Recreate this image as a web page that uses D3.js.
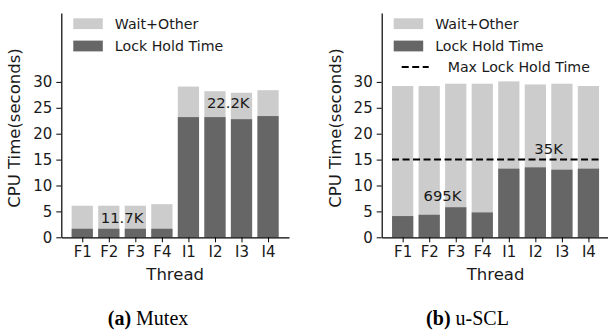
<!DOCTYPE html>
<html><head><meta charset="utf-8">
<script src="https://cdn.jsdelivr.net/npm/d3@7"></script>
<style>
html,body{margin:0;padding:0;background:#fff;}
svg{display:block;}
text{font-family:"DejaVu Sans",sans-serif;}
</style></head>
<body><svg id="c" width="608" height="333"></svg>
<script>
const threads = ["F1","F2","F3","F4","I1","I2","I3","I4"];
const mutexLock = [1.65,1.65,1.65,1.65,23.2,23.2,22.8,23.4];
const mutexTotal = [6.1,6.1,6.1,6.4,29.1,28.2,27.9,28.4];
const usclLock = [4.1,4.35,5.8,4.8,13.25,13.5,13.05,13.25];
const usclTotal = [29.2,29.2,29.65,29.65,30.1,29.5,29.65,29.2];
const maxLockHold = 15;
const yTicks = [0,5,10,15,20,25,30];
const legendLabels = ["Wait+Other","Lock Hold Time","Max Lock Hold Time"];
const mutexNotes = [{x:1.5,y:2.8,t:"11.7K"},{x:5.5,y:24.9,t:"22.2K"}];
const usclNotes = [{x:1.5,y:7.05,t:"695K"},{x:5.5,y:16.1,t:"35K"}];
const captions = [{b:"(a)",r:" Mutex"},{b:"(b)",r:" u-SCL"}];

const LIGHT="#cccccc", DARK="#666666", TXT="#1a1a1a";
const svg = d3.select("#c");

function panel(x0, lock, total, notes, showMax, cap, capX){
  const g = svg.append("g");
  const x = d3.scaleLinear().domain([-0.79,7.79]).range([x0, x0+227.7]);
  const y = d3.scaleLinear().domain([0,43.3]).range([237.3,13]);
  const bw = x(0.8)-x(0);
  g.selectAll("rect.tot").data(total).join("rect")
    .attr("x",(d,i)=>x(i-0.4)).attr("width",bw)
    .attr("y",d=>y(d)).attr("height",d=>y(0)-y(d)).attr("fill",LIGHT);
  g.selectAll("rect.lk").data(lock).join("rect")
    .attr("x",(d,i)=>x(i-0.4)).attr("width",bw)
    .attr("y",d=>y(d)).attr("height",d=>y(0)-y(d)).attr("fill",DARK);
  if(showMax){
    g.append("line").attr("x1",x(-0.4)).attr("x2",x(7.4))
      .attr("y1",y(maxLockHold)).attr("y2",y(maxLockHold))
      .attr("stroke","#000").attr("stroke-width",2).attr("stroke-dasharray","7,3.5");
  }
  const ya = d3.axisLeft(y).tickValues(yTicks).tickSize(5).tickPadding(4).tickSizeOuter(0);
  const yg = g.append("g").attr("transform",`translate(${x0},0)`).call(ya);
  const xa = d3.axisBottom(x).tickValues(d3.range(threads.length)).tickFormat(i=>threads[i])
    .tickSize(5).tickPadding(4).tickSizeOuter(0);
  const xg = g.append("g").attr("transform",`translate(0,${y(0)})`).call(xa);
  [yg,xg].forEach(a=>{
    a.selectAll("text").attr("font-size",15).attr("fill",TXT).attr("font-family","DejaVu Sans");
    a.select(".domain").attr("stroke","#000").attr("stroke-width",1.2);
    a.selectAll(".tick line").attr("stroke","#000").attr("stroke-width",1);
  });
  g.append("text").attr("x",x(3.5)).attr("y",280).attr("text-anchor","middle")
    .attr("font-size",16.5).attr("fill",TXT).text("Thread");
  g.append("text").attr("transform",`translate(${x0-41},128) rotate(-90)`)
    .attr("text-anchor","middle").attr("font-size",16.5).attr("fill",TXT).text("CPU Time(seconds)");
  g.selectAll("text.note").data(notes).join("text").attr("class","note")
    .attr("x",d=>x(d.x)).attr("y",d=>y(d.y)).attr("text-anchor","middle")
    .attr("font-size",14.8).attr("fill",TXT).text(d=>d.t);
  const lx = x0+12;
  g.append("rect").attr("x",lx).attr("y",18.3).attr("width",29.5).attr("height",10.8).attr("fill",LIGHT);
  g.append("rect").attr("x",lx).attr("y",40.6).attr("width",29.5).attr("height",10.8).attr("fill",DARK);
  g.append("text").attr("x",lx+41.5).attr("y",29).attr("font-size",14.2).attr("fill",TXT).text(legendLabels[0]);
  g.append("text").attr("x",lx+41.5).attr("y",51.3).attr("font-size",14.2).attr("fill",TXT).text(legendLabels[1]);
  if(showMax){
    g.append("line").attr("x1",lx+8).attr("x2",lx+35).attr("y1",67).attr("y2",67)
      .attr("stroke","#000").attr("stroke-width",2).attr("stroke-dasharray","7,3.5");
    g.append("text").attr("x",lx+54).attr("y",71.5).attr("font-size",14.2).attr("fill",TXT).text(legendLabels[2]);
  }
  const t = svg.append("text").attr("x",capX).attr("y",325).attr("text-anchor","middle")
    .attr("font-family","Liberation Serif, Times New Roman, serif").attr("font-size",20).attr("fill","#000");
  t.append("tspan").attr("font-weight","bold").attr("font-family","Liberation Serif").text(cap.b);
  t.append("tspan").attr("font-family","Liberation Serif").text(cap.r);
}
panel(61.3, mutexLock, mutexTotal, mutexNotes, false, captions[0], 148);
panel(381.7, usclLock, usclTotal, usclNotes, true, captions[1], 467.5);
</script></body></html>
